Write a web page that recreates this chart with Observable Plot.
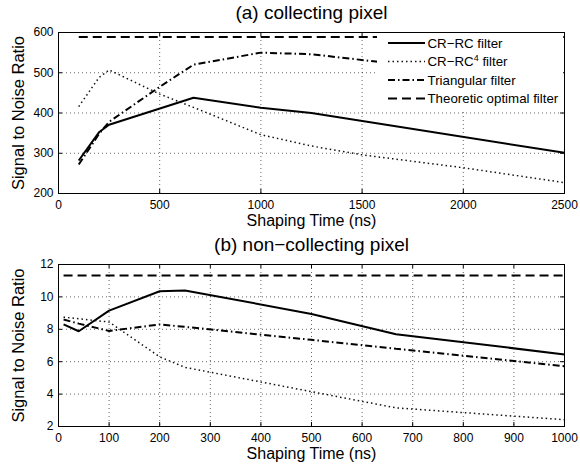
<!DOCTYPE html>
<html><head><meta charset="utf-8">
<script src="https://cdn.jsdelivr.net/npm/d3@7"></script>
<script src="https://cdn.jsdelivr.net/npm/@observablehq/plot@0.6"></script>
<style>
html,body{margin:0;padding:0;background:#fff;}
#chart{position:relative;width:580px;height:468px;font-family:"Liberation Sans",Arial,sans-serif;}
#chart > svg{display:block;}
</style></head><body><div id="chart"></div>
<script>
// ---------- data ----------
const seriesNames = ["CR−RC filter", "CR−RC4 filter", "Triangular filter", "Theoretic optimal filter"];
const titles = ["(a) collecting pixel", "(b) non−collecting pixel"];
const xLabel = "Shaping Time (ns)";
const yLabel = "Signal to Noise Ratio";

// panel (a) collecting pixel
const aCrrcT = [100, 200, 250, 667, 1000, 1250, 2500];
const aCrrcV = [282, 352, 371, 438, 413, 400, 301];
const aCrrc4T = [100, 200, 250, 500, 667, 1000, 1250, 1500, 2000, 2500];
const aCrrc4V = [416, 488, 507, 447, 414, 346, 318, 296, 264, 227];
const aTriT = [100, 200, 250, 500, 667, 1000, 1250, 1600];
const aTriV = [272, 348, 378, 465, 520, 550, 546, 526];
const aOptT = [100, 2500];
const aOptV = [589, 589];
const aXTicks = [0, 500, 1000, 1500, 2000, 2500];
const aYTicks = [200, 300, 400, 500, 600];

// panel (b) non-collecting pixel
const bCrrcT = [10, 40, 100, 200, 250, 500, 667, 1000];
const bCrrcV = [8.3, 7.88, 9.15, 10.35, 10.4, 8.95, 7.7, 6.45];
const bCrrc4T = [10, 100, 200, 250, 500, 667, 1000];
const bCrrc4V = [8.75, 8.45, 6.3, 5.65, 4.15, 3.15, 2.42];
const bTriT = [10, 40, 100, 200, 250, 500, 667, 1000];
const bTriV = [8.6, 8.35, 7.9, 8.3, 8.15, 7.35, 6.8, 5.72];
const bOptT = [10, 1000];
const bOptV = [11.32, 11.32];
const bXTicks = [0, 100, 200, 300, 400, 500, 600, 700, 800, 900, 1000];
const bYTicks = [2, 4, 6, 8, 10, 12];

// ---------- drawing ----------
const rows = (ts, vs) => ts.map((t, i) => ({t, v: vs[i]}));
const lineStyles = [
  {strokeWidth: 2, strokeDasharray: null, stroke: "#000"},
  {strokeWidth: 1.5, strokeDasharray: "1.5,3", stroke: "#111"},
  {strokeWidth: 2, strokeDasharray: "7,3,1.5,3", stroke: "#000"},
  {strokeWidth: 2, strokeDasharray: "9,5", stroke: "#000"}
];
const FONT = "Liberation Sans, Arial, sans-serif";

function panel({title, series, xDomain, yDomain, xTicks, yTicks, height, mt, mb, titleDy}) {
  const W = 580, ml = 58, mr = 16;
  const fh = height - mt - mb, fw = W - ml - mr, tl = 4;
  const ix = xTicks.slice(1, -1), iy = yTicks.slice(1, -1);
  const grid = {stroke: "#000", strokeOpacity: 0.6, strokeDasharray: "1,3", strokeWidth: 1};
  const tick = {stroke: "#000", strokeWidth: 1};
  const label = {fill: "#000", lineAnchor: "middle", textAnchor: "middle", fontFamily: FONT};
  return Plot.plot({
    width: W, height, marginTop: mt, marginBottom: mb, marginLeft: ml, marginRight: mr,
    style: {fontFamily: FONT, fontSize: "12px", color: "black", background: "white", overflow: "visible"},
    x: {domain: xDomain, ticks: xTicks, tickSize: 0, tickPadding: 7, label: null, tickFormat: d => String(d)},
    y: {domain: yDomain, ticks: yTicks, tickSize: 0, tickPadding: 5, label: null, tickFormat: d => String(d)},
    marks: [
      Plot.ruleX(ix, {x: d => d, ...grid}),
      Plot.ruleY(iy, {y: d => d, ...grid}),
      ...series.map((s, i) => Plot.line(rows(s[0], s[1]), {
        x: "t", y: "v", ...lineStyles[i], strokeLinecap: "butt", strokeLinejoin: "miter"
      })),
      Plot.ruleX(ix, {x: d => d, insetTop: fh - tl, ...tick}),
      Plot.ruleX(ix, {x: d => d, insetBottom: fh - tl, ...tick}),
      Plot.ruleY(iy, {y: d => d, insetRight: fw - tl, ...tick}),
      Plot.ruleY(iy, {y: d => d, insetLeft: fw - tl, ...tick}),
      Plot.frame({stroke: "#000", strokeWidth: 1}),
      Plot.text([title], {text: d => d, frameAnchor: "top", dy: titleDy, fontSize: 19, ...label}),
      Plot.text([xLabel], {text: d => d, frameAnchor: "bottom", dy: 27, fontSize: 16, ...label}),
      Plot.text([yLabel], {text: d => d, frameAnchor: "left", rotate: -90, dx: -40, fontSize: 16.5, ...label})
    ]
  });
}

const chart = document.getElementById("chart");
chart.append(panel({
  title: titles[0],
  series: [[aCrrcT, aCrrcV], [aCrrc4T, aCrrc4V], [aTriT, aTriV], [aOptT, aOptV]],
  xDomain: [0, 2500], yDomain: [200, 600], xTicks: aXTicks, yTicks: aYTicks,
  height: 234, mt: 32, mb: 41, titleDy: -19.5
}));
chart.append(panel({
  title: titles[1],
  series: [[bCrrcT, bCrrcV], [bCrrc4T, bCrrc4V], [bTriT, bTriV], [bOptT, bOptV]],
  xDomain: [0, 1000], yDomain: [2, 12], xTicks: bXTicks, yTicks: bYTicks,
  height: 234, mt: 30, mb: 42, titleDy: -20
}));

// legend for panel (a): opaque box in the upper right of the frame
const LW = 186, LH = 76;
const lg = d3.select("#chart").append("svg")
  .attr("width", LW).attr("height", LH)
  .style("position", "absolute").style("left", "377px").style("top", "33px");
lg.append("rect").attr("width", LW).attr("height", LH).attr("fill", "#fff");
const rowY = [10, 28.5, 47, 65.5];
seriesNames.forEach((name, i) => {
  const y = rowY[i];
  const st = lineStyles[i];
  lg.append("line").attr("x1", 11).attr("x2", 48).attr("y1", y).attr("y2", y)
    .attr("stroke", st.stroke).attr("stroke-width", st.strokeWidth)
    .attr("stroke-dasharray", st.strokeDasharray).attr("stroke-linecap", "butt");
  const t = lg.append("text").attr("x", 50.5).attr("y", y).attr("dy", "0.36em")
    .attr("font-family", FONT).attr("font-size", 13.3).attr("fill", "#000");
  const m = name.match(/^(.*RC)(\d)( .*)$/);
  if (m) {
    t.append("tspan").text(m[1]);
    t.append("tspan").attr("dy", -5).attr("font-size", 9).text(m[2]);
    t.append("tspan").attr("dy", 5).text(m[3]);
  } else {
    t.text(name);
  }
});
</script></body></html>
